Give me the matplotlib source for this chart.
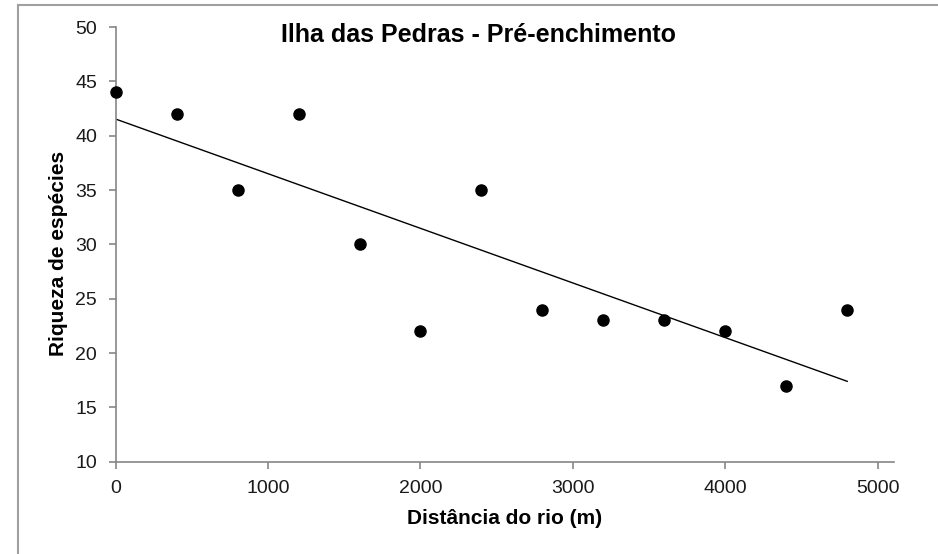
import numpy as np
import matplotlib
matplotlib.use("Agg")
import matplotlib.pyplot as plt
from matplotlib.patches import Rectangle

plt.rcParams['font.family'] = ['Liberation Sans', 'DejaVu Sans']

# Species richness along the distance from the river
distancia = [0, 400, 800, 1200, 1600, 2000, 2400, 2800, 3200, 3600, 4000, 4400, 4800]
riqueza = [44, 42, 35, 42, 30, 22, 35, 24, 23, 23, 22, 17, 24]

titulo = "Ilha das Pedras - Pré-enchimento"
rotulo_x = "Distância do rio (m)"
rotulo_y = "Riqueza de espécies"
xticks = [0, 1000, 2000, 3000, 4000, 5000]
yticks = [10, 15, 20, 25, 30, 35, 40, 45, 50]

W, H = 938, 554
fig = plt.figure(figsize=(W / 100, H / 100), dpi=100)
ax = fig.add_axes([115.7 / W, 1 - 461.7 / H, (894 - 115.7) / W, (461.7 - 27) / H])

x = np.array(distancia, dtype=float)
y = np.array(riqueza, dtype=float)

ax.plot(x, y, 'o', color='black', markersize=8, zorder=3, clip_on=False)

# linear trend line across the sampled range
coef = np.polyfit(x, y, 1)
xl = np.array([x.min(), x.max()])
ax.plot(xl, np.polyval(coef, xl), color='black', linewidth=1.0, zorder=2)

ax.set_xlim(0, 5107)
ax.set_ylim(10, 50)
ax.set_xticks(xticks)
ax.set_yticks(yticks)

spine_c = '#868686'
for s in ('top', 'right'):
    ax.spines[s].set_visible(False)
for s in ('left', 'bottom'):
    ax.spines[s].set_color(spine_c)
    ax.spines[s].set_linewidth(1.2)
ax.tick_params(axis='both', colors=spine_c, labelcolor='#1a1a1a',
               length=5.3, width=1.2, labelsize=14, pad=8)

fig.text(478.5 / W, 1 - 41.7 / H, titulo, ha='center', va='baseline',
         fontsize=18, fontweight='bold', color='black')
fig.text(504.5 / W, 1 - 518 / H, rotulo_x, ha='center', va='center',
         fontsize=15, fontweight='bold', color='black')
fig.text(59 / W, 1 - 253.5 / H, rotulo_y, ha='center', va='center',
         rotation=90, fontsize=15, fontweight='bold', color='black')

# chart area frame
fig.patches.append(Rectangle((18 / W, -0.5), 2.0, 1.5 - 5 / H,
                             transform=fig.transFigure, fill=False,
                             edgecolor='#a0a0a0', linewidth=1.5))

fig.savefig('out.png', dpi=100)
